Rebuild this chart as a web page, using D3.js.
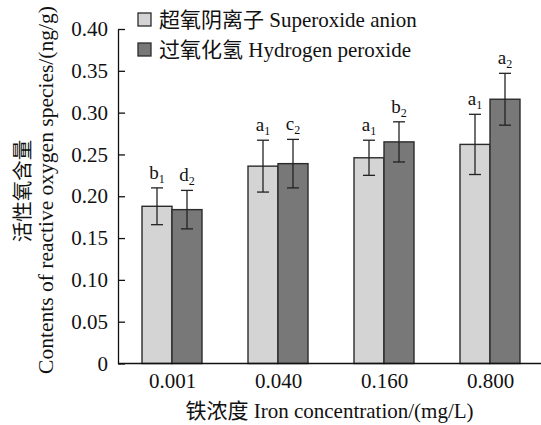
<!DOCTYPE html>
<html>
<head>
<meta charset="utf-8">
<script src="https://cdn.jsdelivr.net/npm/d3@7"></script>
<style>
  body { margin: 0; background: #fff; }
  text, tspan { font-family: 'Liberation Serif', 'Noto Sans CJK SC', serif; fill: #111; }
  .cjk { font-family: 'Noto Sans CJK SC', sans-serif; }
</style>
</head>
<body>
<svg id="chart" width="541" height="425"></svg>
<script>
var concentrations = [ '0.001', '0.040', '0.160', '0.800' ];
var seriesCn = [ '超氧阴离子', '过氧化氢' ];
var seriesEn = [ 'Superoxide anion', 'Hydrogen peroxide' ];
var superoxide = [ 0.188, 0.236, 0.246, 0.262 ];
var superoxideErr = [ 0.022, 0.031, 0.021, 0.036 ];
var superoxideSig = [ [ 'b', '1' ], [ 'a', '1' ], [ 'a', '1' ], [ 'a', '1' ] ];
var peroxide = [ 0.184, 0.239, 0.265, 0.316 ];
var peroxideErr = [ 0.023, 0.029, 0.024, 0.031 ];
var peroxideSig = [ [ 'd', '2' ], [ 'c', '2' ], [ 'b', '2' ], [ 'a', '2' ] ];
var yTicks = [ 0, 0.05, 0.10, 0.15, 0.20, 0.25, 0.30, 0.35, 0.40 ];

var svg = d3.select( '#chart' ),
  margin = { top: 29, right: 0, bottom: 62, left: 118 },
  width = +svg.attr( 'width' ),
  height = +svg.attr( 'height' );

var colors = [ '#d4d4d4', '#787878' ];

var data = concentrations.map( ( c, i ) => ( {
  conc: c,
  values: [
    { s: 0, v: superoxide[ i ], e: superoxideErr[ i ], sig: superoxideSig[ i ] },
    { s: 1, v: peroxide[ i ], e: peroxideErr[ i ], sig: peroxideSig[ i ] }
  ]
} ) );

var x = d3.scalePoint()
  .domain( concentrations )
  .range( [ margin.left + 1, width + 2 ] )
  .padding( 0.5 );

var xs = d3.scaleBand()
  .domain( [ 0, 1 ] )
  .range( [ -30, 30 ] );

var y = d3.scaleLinear()
  .domain( [ 0, 0.40 ] )
  .range( [ height - margin.bottom + 0.5, margin.top ] );

/* Bars */

var groups = svg.selectAll( '.group' )
  .data( data )
  .enter().append( 'g' )
    .attr( 'class', 'group' )
    .attr( 'transform', d => 'translate(' + x( d.conc ) + ',0)' );

groups.selectAll( 'rect' )
  .data( d => d.values )
  .enter().append( 'rect' )
    .attr( 'x', d => xs( d.s ) )
    .attr( 'y', d => y( d.v ) )
    .attr( 'width', xs.bandwidth() )
    .attr( 'height', d => y( 0 ) - y( d.v ) )
    .style( 'fill', d => colors[ d.s ] )
    .style( 'stroke', '#2b2b2b' )
    .style( 'stroke-width', 1.4 );

/* Error bars */

var err = groups.selectAll( '.err' )
  .data( d => d.values )
  .enter().append( 'g' )
    .attr( 'class', 'err' )
    .attr( 'transform', d => 'translate(' + ( xs( d.s ) + xs.bandwidth() / 2 ) + ',0)' )
    .style( 'stroke', '#222' )
    .style( 'stroke-width', 1.3 );

err.append( 'line' )
  .attr( 'y1', d => y( d.v + d.e ) )
  .attr( 'y2', d => y( d.v - d.e ) );

err.append( 'line' )
  .attr( 'x1', -6 ).attr( 'x2', 6 )
  .attr( 'y1', d => y( d.v + d.e ) )
  .attr( 'y2', d => y( d.v + d.e ) );

err.append( 'line' )
  .attr( 'x1', -6 ).attr( 'x2', 6 )
  .attr( 'y1', d => y( d.v - d.e ) )
  .attr( 'y2', d => y( d.v - d.e ) );

/* Significance letters */

var sig = groups.selectAll( '.sig' )
  .data( d => d.values )
  .enter().append( 'text' )
    .attr( 'class', 'sig' )
    .attr( 'x', d => xs( d.s ) + xs.bandwidth() / 2 )
    .attr( 'y', d => y( d.v + d.e ) - 9 )
    .attr( 'text-anchor', 'middle' )
    .style( 'font-size', '19px' );

sig.append( 'tspan' ).text( d => d.sig[ 0 ] );
sig.append( 'tspan' )
  .attr( 'dy', 4 )
  .style( 'font-size', '12px' )
  .text( d => d.sig[ 1 ] );

/* Axes */

var yAxis = svg.append( 'g' )
  .attr( 'class', 'y-axis' )
  .attr( 'transform', 'translate(' + margin.left + ',0)' )
  .call( d3.axisLeft( y )
    .tickValues( yTicks )
    .tickSizeInner( -7 )
    .tickSizeOuter( 0 )
    .tickPadding( 10 )
    .tickFormat( d => d === 0 ? '0' : d3.format( '.2f' )( d ) ) );

yAxis.selectAll( 'path, line' ).style( 'stroke', '#111' ).style( 'stroke-width', 1.3 );
yAxis.selectAll( 'text' ).style( 'font-size', '21px' ).attr( 'fill', '#111' );

var xAxis = svg.append( 'g' )
  .attr( 'class', 'x-axis' )
  .attr( 'transform', 'translate(0,' + y( 0 ) + ')' )
  .call( d3.axisBottom( x ).tickSize( 0 ).tickPadding( 10 ) );

xAxis.select( '.domain' )
  .attr( 'd', 'M' + margin.left + ',0H' + width )
  .style( 'stroke', '#111' ).style( 'stroke-width', 1.3 );
xAxis.selectAll( 'text' ).style( 'font-size', '21px' ).attr( 'fill', '#111' );

/* Axis titles: Chinese and Latin parts in their own tspans */

function bilingual( sel, cn, en ) {
  sel.append( 'tspan' ).attr( 'class', 'cjk' ).text( cn );
  sel.append( 'tspan' ).text( ' ' + en );
}

svg.append( 'text' )
  .attr( 'x', ( margin.left + width ) / 2 )
  .attr( 'y', 418 )
  .attr( 'text-anchor', 'middle' )
  .style( 'font-size', '21px' )
  .call( bilingual, '铁浓度', 'Iron concentration/(mg/L)' );

svg.append( 'text' )
  .attr( 'class', 'cjk' )
  .attr( 'transform', 'rotate(-90)' )
  .attr( 'x', -191 )
  .attr( 'y', 30 )
  .attr( 'text-anchor', 'middle' )
  .style( 'font-size', '20.5px' )
  .text( '活性氧含量' );

svg.append( 'text' )
  .attr( 'transform', 'rotate(-90)' )
  .attr( 'x', -190 )
  .attr( 'y', 53 )
  .attr( 'text-anchor', 'middle' )
  .style( 'font-size', '21.5px' )
  .text( 'Contents of reactive oxygen species/(ng/g)' );

/* Legend */

var legend = svg.selectAll( '.legend' )
  .data( seriesCn )
  .enter().append( 'g' )
    .attr( 'class', 'legend' )
    .attr( 'transform', ( d, i ) => 'translate(138,' + ( 13 + i * 30 ) + ')' );

legend.append( 'rect' )
  .attr( 'width', 13 )
  .attr( 'height', 13 )
  .style( 'fill', ( d, i ) => colors[ i ] )
  .style( 'stroke', '#2b2b2b' )
  .style( 'stroke-width', 1.3 );

legend.append( 'text' )
  .attr( 'x', 21 )
  .attr( 'y', 14 )
  .style( 'font-size', '21px' )
  .each( function( d, i ) { d3.select( this ).call( bilingual, d, seriesEn[ i ] ); } );
</script>
</body>
</html>
